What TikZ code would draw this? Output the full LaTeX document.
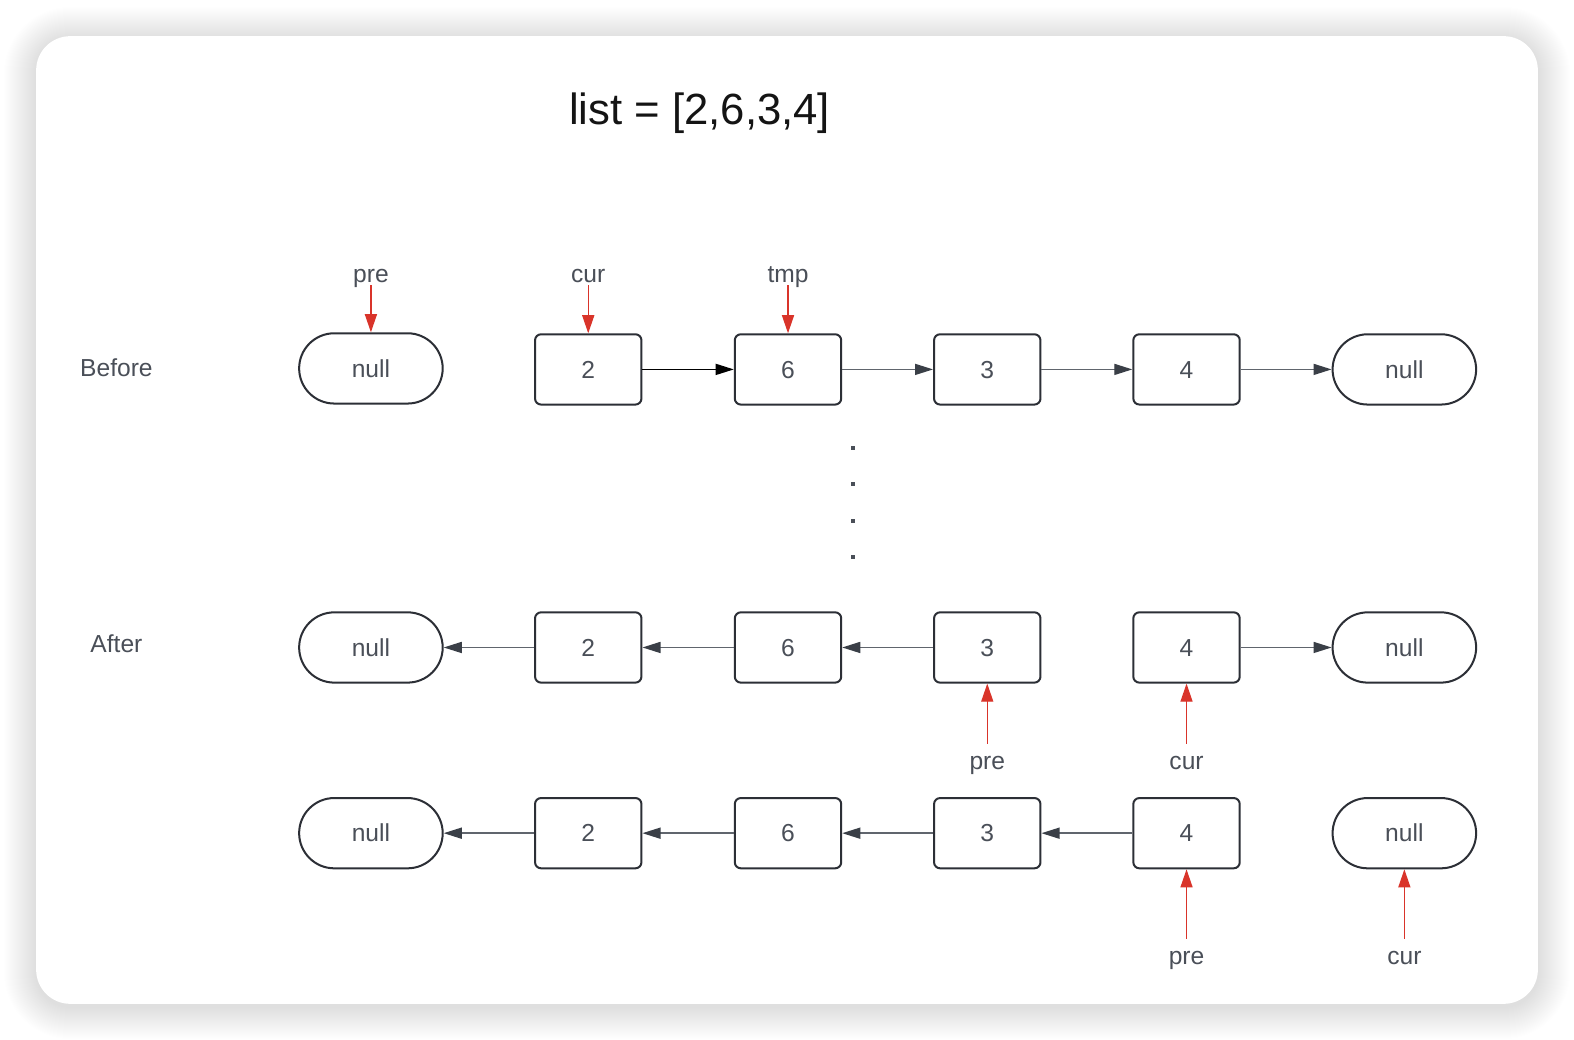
\documentclass[tikz,border=0pt]{standalone}
\usepackage{fontspec}
\setmainfont{Liberation Sans}
\usetikzlibrary{arrows.meta,shapes.misc}
\definecolor{ink}{HTML}{2C2F36}
\definecolor{txt}{HTML}{4A4F58}
\definecolor{ptr}{HTML}{D9342A}
\definecolor{lnk}{HTML}{60656D}
\definecolor{lnkhead}{HTML}{3A3F47}
\begin{document}
\begin{tikzpicture}[x=1pt,y=-1pt,
  lbl/.style={text=txt,font=\fontsize{24.5}{28}\selectfont,inner sep=0pt,anchor=base},
  cell/.style={draw=ink,line width=2pt,rounded corners=6pt,minimum width=106pt,
    minimum height=70pt,inner sep=0pt,text=txt,text height=17.5pt,text depth=0pt,
    font=\fontsize{24.5}{28}\selectfont},
  term/.style={rounded rectangle,draw=ink,line width=2pt,minimum width=143pt,
    minimum height=70pt,inner sep=0pt,text=txt,text height=17.5pt,text depth=0pt,
    font=\fontsize{24.5}{28}\selectfont},
  link/.style={draw=lnk,line width=1.4pt,-{Triangle[length=18pt,width=11pt,color=lnkhead]}},
  firstlink/.style={draw=black,line width=1.4pt,-{Triangle[length=18pt,width=11pt,color=black]}},
  ptrarrow/.style={draw=ptr,line width=1.3pt,-{Triangle[length=18pt,width=12pt]}},
  dot/.style={fill=txt,inner sep=0pt,minimum size=4pt,draw=none},
]
% page and card with a soft shadow built from stacked translucent layers
\useasboundingbox (0,0) rectangle (1568,1036);
\fill[white] (0,0) rectangle (1568,1036);
\foreach \i in {1,...,32}{
  \fill[black,opacity=0.0052,rounded corners={34pt+\i pt}]
    ({36-\i},{39-\i}) rectangle ({1532+\i},{1003+\i});
}
\fill[white,rounded corners=34pt] (36,36) rectangle (1532,1000);

% title
\node[anchor=base,inner sep=0pt,font=\fontsize{43.5}{50}\selectfont,text=black!92]
  (title) at (697,124.5) {list = [2,6,3,4]};

% row labels
\node[lbl] (before) at (116,375) {Before};
\node[lbl] (after) at (116,650) {After};

% ---- before ----
\node[term] (b0) at (369.5,367) {null};
\node[cell] (b2) at (586,368) {2};
\node[cell] (b6) at (785,368) {6};
\node[cell] (b3) at (983.5,368) {3};
\node[cell] (b4) at (1182,368) {4};
\node[term] (b5) at (1399,368) {null};
\draw[firstlink] (b2.east) -- (b6.west);
\draw[link] (b6.east) -- (b3.west);
\draw[link] (b3.east) -- (b4.west);
\draw[link] (b4.east) -- (b5.west);

\node[lbl] (bpre) at (369.5,281) {pre};
\node[lbl] (bcur) at (586,281) {cur};
\node[lbl] (btmp) at (785,281) {tmp};
\coordinate (bpreS) at (369.5,284);
\coordinate (bcurS) at (586,284);
\coordinate (btmpS) at (785,284);
\draw[ptrarrow] (bpreS) -- (b0.north);
\draw[ptrarrow] (bcurS) -- (b2.north);
\draw[ptrarrow] (btmpS) -- (b6.north);

% ellipsis between the stages
\node[dot] (d1) at (850,446) {};
\node[dot] (d2) at (850,482) {};
\node[dot] (d3) at (850,519) {};
\node[dot] (d4) at (850,555) {};

% ---- after, step one ----
\node[term] (a0) at (369.5,645) {null};
\node[cell] (a2) at (586,645) {2};
\node[cell] (a6) at (785,645) {6};
\node[cell] (a3) at (983.5,645) {3};
\node[cell] (a4) at (1182,645) {4};
\node[term] (a5) at (1399,645) {null};
\draw[link] (a2.west) -- (a0.east);
\draw[link] (a6.west) -- (a2.east);
\draw[link] (a3.west) -- (a6.east);
\draw[link] (a4.east) -- (a5.west);

\node[lbl] (apre) at (983.5,767) {pre};
\node[lbl] (acur) at (1182,767) {cur};
\coordinate (apreS) at (983.5,741);
\coordinate (acurS) at (1182,741);
\draw[ptrarrow] (apreS) -- (a3.south);
\draw[ptrarrow] (acurS) -- (a4.south);

% ---- after, final ----
\node[term] (c0) at (369.5,830) {null};
\node[cell] (c2) at (586,830) {2};
\node[cell] (c6) at (785,830) {6};
\node[cell] (c3) at (983.5,830) {3};
\node[cell] (c4) at (1182,830) {4};
\node[term] (c5) at (1399,830) {null};
\draw[link] (c2.west) -- (c0.east);
\draw[link] (c6.west) -- (c2.east);
\draw[link] (c3.west) -- (c6.east);
\draw[link] (c4.west) -- (c3.east);

\node[lbl] (cpre) at (1182,961) {pre};
\node[lbl] (ccur) at (1399,961) {cur};
\coordinate (cpreS) at (1182,935);
\coordinate (ccurS) at (1399,935);
\draw[ptrarrow] (cpreS) -- (c4.south);
\draw[ptrarrow] (ccurS) -- (c5.south);
\end{tikzpicture}
\end{document}
